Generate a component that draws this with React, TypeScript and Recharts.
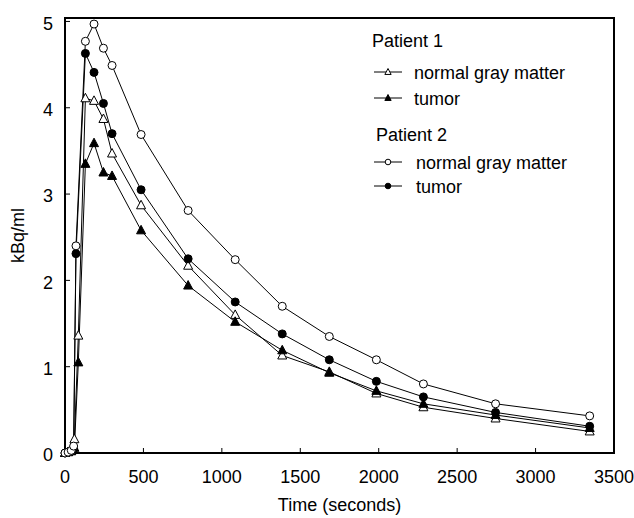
import React from "react";
import { Legend, Line, LineChart, ReferenceArea, XAxis, YAxis } from "recharts";

// time points (s)
const p1Times = [0, 20, 40, 60, 85, 130, 185, 245, 300, 485, 785, 1085, 1385, 1685, 1985, 2285, 2745, 3345];
const p2Times = [0, 20, 40, 55, 70, 130, 185, 245, 300, 485, 785, 1085, 1385, 1685, 1985, 2285, 2745, 3345];

// kBq/ml
const p1Normal = [0, 0.01, 0.03, 0.16, 1.36, 4.11, 4.08, 3.87, 3.47, 2.87, 2.17, 1.6, 1.13, 0.94, 0.69, 0.53, 0.4, 0.25];
const p1Tumor = [0, 0.01, 0.02, 0.06, 1.05, 3.35, 3.59, 3.25, 3.21, 2.58, 1.94, 1.52, 1.19, 0.93, 0.72, 0.57, 0.44, 0.29];
const p2Normal = [0, 0.01, 0.03, 0.08, 2.4, 4.77, 4.97, 4.69, 4.49, 3.69, 2.81, 2.24, 1.7, 1.35, 1.08, 0.8, 0.57, 0.43];
const p2Tumor = [0, 0.01, 0.02, 0.05, 2.31, 4.63, 4.41, 4.05, 3.7, 3.05, 2.25, 1.75, 1.38, 1.08, 0.83, 0.65, 0.47, 0.31];

const xTicks = [0, 500, 1000, 1500, 2000, 2500, 3000, 3500];
const yTicks = [0, 1, 2, 3, 4, 5];
const Y_MAX = 5.04;

const toRows = (times: number[], vals: number[]) => times.map((t, i) => ({ t, v: vals[i] }));

type Mark = "circle" | "triangle";

function Marker({ x, y, mark, filled, s = 1 }: { x: number; y: number; mark: Mark; filled: boolean; s?: number }) {
  const fill = filled ? "#000" : "#fff";
  if (mark === "circle") {
    return <circle cx={x} cy={y} r={4 * s} fill={fill} stroke="#000" strokeWidth={1} />;
  }
  const d = `M${x},${y - 5 * s} L${x + 4.5 * s},${y + 3.5 * s} L${x - 4.5 * s},${y + 3.5 * s} Z`;
  return <path d={d} fill={fill} stroke="#000" strokeWidth={1} />;
}

const dotFor = (mark: Mark, filled: boolean) => (props: any) => {
  const { cx, cy, index } = props;
  if (cx == null || cy == null) return <g key={index} />;
  return (
    <g key={index}>
      <Marker x={cx} y={cy} mark={mark} filled={filled} />
    </g>
  );
};

const series = [
  { id: "p1n", name: "normal gray matter", data: toRows(p1Times, p1Normal), mark: "triangle" as Mark, filled: false },
  { id: "p1t", name: "tumor", data: toRows(p1Times, p1Tumor), mark: "triangle" as Mark, filled: true },
  { id: "p2t", name: "tumor", data: toRows(p2Times, p2Tumor), mark: "circle" as Mark, filled: true },
  { id: "p2n", name: "normal gray matter", data: toRows(p2Times, p2Normal), mark: "circle" as Mark, filled: false },
];

function LegendBox() {
  const txt = { fontSize: 18, fill: "#000" };
  const row = (y: number, tx: number, label: string, mark: Mark, filled: boolean) => (
    <g>
      <line x1={14} x2={42} y1={y} y2={y} stroke="#000" strokeWidth={1} />
      <Marker x={28} y={y} mark={mark} filled={filled} s={0.7} />
      <text x={tx} y={y + 7} {...txt}>
        {label}
      </text>
    </g>
  );
  return (
    <svg width={260} height={190} style={{ display: "block" }}>
      <text x={12} y={27} {...txt}>
        Patient 1
      </text>
      {row(52, 54, "normal gray matter", "triangle", false)}
      {row(78, 54, "tumor", "triangle", true)}
      <text x={16} y={121} {...txt}>
        Patient 2
      </text>
      {row(142, 56, "normal gray matter", "circle", false)}
      {row(166, 56, "tumor", "circle", true)}
    </svg>
  );
}

export default function App() {
  const tick = { fill: "#000", fontSize: 18 };
  return (
    <div style={{ position: "absolute", left: 0, top: 0, background: "#fff", fontFamily: "'Liberation Sans', Arial, sans-serif" }}>
      <LineChart width={634} height={518} margin={{ top: 18, right: 20, left: 0, bottom: 35 }}>
        <XAxis
          type="number"
          dataKey="t"
          domain={[0, 3500]}
          ticks={xTicks}
          tick={tick}
          tickSize={-5}
          tickMargin={22}
          axisLine={false}
          tickLine={{ stroke: "#000" }}
          height={30}
          allowDuplicatedCategory={false}
          label={{ value: "Time (seconds)", position: "bottom", offset: 15, fill: "#000", fontSize: 18 }}
        />
        <YAxis
          type="number"
          dataKey="v"
          domain={[0, Y_MAX]}
          ticks={yTicks}
          tick={{ ...tick, dy: 2 }}
          tickSize={-5}
          tickMargin={17}
          axisLine={false}
          tickLine={{ stroke: "#000" }}
          width={65}
          label={{
            value: "kBq/ml",
            angle: -90,
            position: "insideLeft",
            offset: 18,
            fill: "#000",
            fontSize: 18,
            style: { textAnchor: "middle" },
          }}
        />
        <ReferenceArea x1={0} x2={3500} y1={0} y2={Y_MAX} fill="none" stroke="#000" strokeWidth={2} ifOverflow="visible" />
        {series.map((s) => (
          <Line
            key={s.id}
            data={s.data}
            dataKey="v"
            name={s.name}
            stroke="#000"
            strokeWidth={1}
            dot={dotFor(s.mark, s.filled)}
            activeDot={false}
            isAnimationActive={false}
            legendType="none"
          />
        ))}
        <Legend
          layout="horizontal"
          verticalAlign="middle"
          align="center"
          content={() => <LegendBox />}
          wrapperStyle={{ left: 360, top: 20, width: 260, height: 190 }}
        />
      </LineChart>
    </div>
  );
}
